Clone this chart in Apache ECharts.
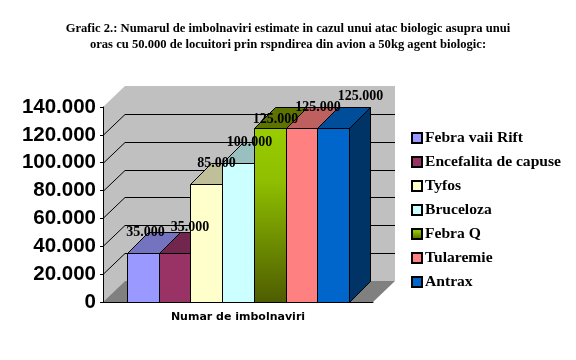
<!DOCTYPE html>
<html>
<head>
<meta charset="utf-8">
<style>html,body{margin:0;background:#fff}#chart{width:576px;height:360px}</style>
<script src="https://cdn.jsdelivr.net/npm/echarts@6/dist/echarts.min.js"></script>
</head>
<body>
<div id="chart"></div>
<script>
var categories = ['Numar de imbolnaviri'];
var names = ['Febra vaii Rift', 'Encefalita de capuse', 'Tyfos', 'Bruceloza', 'Febra Q', 'Tularemie', 'Antrax'];
var values = [35000, 35000, 85000, 100000, 125000, 125000, 125000];
var yTicks = [20000, 40000, 60000, 80000, 100000, 120000];

var front = ['#9999ff', '#993366', '#ffffcc', '#ccffff', null, '#ff8080', '#0066cc'];
var tops = ['#7373bf', '#73264d', '#bfbf99', '#99bfbf', '#5c7300', '#bf6060', '#004d99'];
var sides = ['#4d4d80', '#4d1a33', '#808066', '#668080', '#3d4d00', '#804040', '#003366'];
// data labels are not placed evenly in the picture
var labelDx = [2, 15, 10, 11, 5, 16, 27];
var labelDy = [-21, -26, -21, -21, -9, -21, -32];

var depthX = 21, depthY = 21;
var gapShare = 0.089; // empty part of the band on each side of the bars
var qGrad = {
  type: 'linear', x: 0, y: 0, x2: 0, y2: 1,
  colorStops: [{offset: 0, color: '#99cc00'}, {offset: 0.3, color: '#8fbf00'}, {offset: 1, color: '#4d5c00'}]
};

function px(v) { return Math.round(v) + 0.5; }
function poly(points, fill, stroke) {
  return {
    type: 'polygon',
    shape: {points: points},
    style: {fill: fill, stroke: stroke || null, lineWidth: stroke ? 1 : 0}
  };
}

function renderWalls(params, api) {
  var band = api.size([1, 0])[0];
  var x0 = api.coord([0, 0])[0] - band / 2, x1 = x0 + band;
  var y0 = api.coord([0, 0])[1], yTop = api.coord([0, 140000])[1];
  var dx = 22, dy = 21;
  var kids = [
    poly([[x0, yTop], [x0 + dx, yTop - dy], [x1 + dx, yTop - dy], [x1 + dx, y0 - dy], [x0 + dx, y0 - dy], [x0, y0]], '#c0c0c0'),
    poly([[x0, y0], [x1, y0], [x1 + dx, y0 - dy], [x0 + dx, y0 - dy]], '#808080')
  ];
  yTicks.forEach(function (t) {
    var y = api.coord([0, t])[1];
    kids.push({
      type: 'polyline',
      shape: {points: [[x0, px(y)], [x0 + dx, px(y - dy)], [x1 + dx, px(y - dy)]]},
      style: {fill: null, stroke: '#000', lineWidth: 1}
    });
  });
  return {type: 'group', children: kids};
}

function makeRender(i) {
  return function (params, api) {
    var band = api.size([1, 0])[0];
    var p = api.coord([api.value(0), api.value(1)]);
    var y0 = px(api.coord([0, 0])[1]), yt = px(p[1]);
    var start = p[0] - band / 2 + band * gapShare;
    var w = band * (1 - 2 * gapShare) / names.length;
    var xa = px(start + w * i), xb = px(start + w * (i + 1));
    return {
      type: 'group',
      children: [
        poly([[xb, yt], [xb + depthX, yt - depthY], [xb + depthX, y0 - depthY], [xb, y0]], sides[i], '#000'),
        poly([[xa, yt], [xa + depthX, yt - depthY], [xb + depthX, yt - depthY], [xb, yt]], tops[i], '#000'),
        poly([[xa, yt], [xb, yt], [xb, y0], [xa, y0]], front[i] || qGrad, '#000'),
        {
          type: 'text',
          z2: 100,
          style: {
            x: (xa + xb) / 2 + labelDx[i],
            y: yt + labelDy[i],
            text: echarts.format.addCommas(api.value(1)).replace(',', '.'),
            fill: '#000',
            font: 'bold 14px "Liberation Serif"',
            align: 'center',
            verticalAlign: 'middle'
          }
        }
      ]
    };
  };
}

var series = [{
  type: 'custom',
  name: 'walls',
  silent: true,
  renderItem: renderWalls,
  data: [[0, 0]],
  encode: {x: 0, y: 1}
}];
names.forEach(function (name, i) {
  series.push({
    type: 'custom',
    name: name,
    renderItem: makeRender(i),
    itemStyle: {color: front[i] || qGrad, borderColor: '#000', borderWidth: 1},
    data: [[0, values[i]]],
    encode: {x: 0, y: 1}
  });
});

var chart = echarts.init(document.getElementById('chart'));
chart.setOption({
  animation: false,
  backgroundColor: '#fff',
  title: {
    text: 'Grafic 2.: Numarul de imbolnaviri estimate in cazul unui atac biologic asupra unui\noras cu 50.000 de locuitori prin rspndirea din avion a 50kg agent biologic:',
    left: 283,
    top: 16,
    textAlign: 'center',
    textStyle: {fontFamily: 'Liberation Serif', fontWeight: 'bold', fontSize: 12.6, lineHeight: 16, color: '#000'}
  },
  legend: {
    orient: 'vertical',
    left: 411,
    top: 130,
    data: names,
    icon: 'rect',
    itemWidth: 10,
    itemHeight: 10,
    itemGap: 8,
    padding: 0,
    selectedMode: false,
    textStyle: {fontFamily: 'Liberation Serif', fontWeight: 'bold', fontSize: 15.6, lineHeight: 14, color: '#000', padding: [0, 0, 0, -2]}
  },
  grid: {left: 103, top: 107, width: 270, height: 195},
  xAxis: {
    type: 'category',
    data: categories,
    z: 10,
    axisLine: {lineStyle: {color: '#000'}},
    axisTick: {length: 3, lineStyle: {color: '#000'}},
    axisLabel: {color: '#000', fontFamily: 'DejaVu Sans', fontWeight: 'bold', fontSize: 11, margin: 10}
  },
  yAxis: {
    type: 'value',
    min: 0,
    max: 140000,
    interval: 20000,
    z: 10,
    splitLine: {show: false},
    axisLine: {show: true, lineStyle: {color: '#000'}},
    axisTick: {show: true, length: 3, lineStyle: {color: '#000'}},
    axisLabel: {
      color: '#000',
      fontFamily: 'Liberation Sans',
      fontWeight: 'bold',
      fontSize: 20.5,
      margin: 7,
      formatter: function (v) { return echarts.format.addCommas(v).replace(',', '.'); }
    }
  },
  series: series
});
</script>
</body>
</html>
